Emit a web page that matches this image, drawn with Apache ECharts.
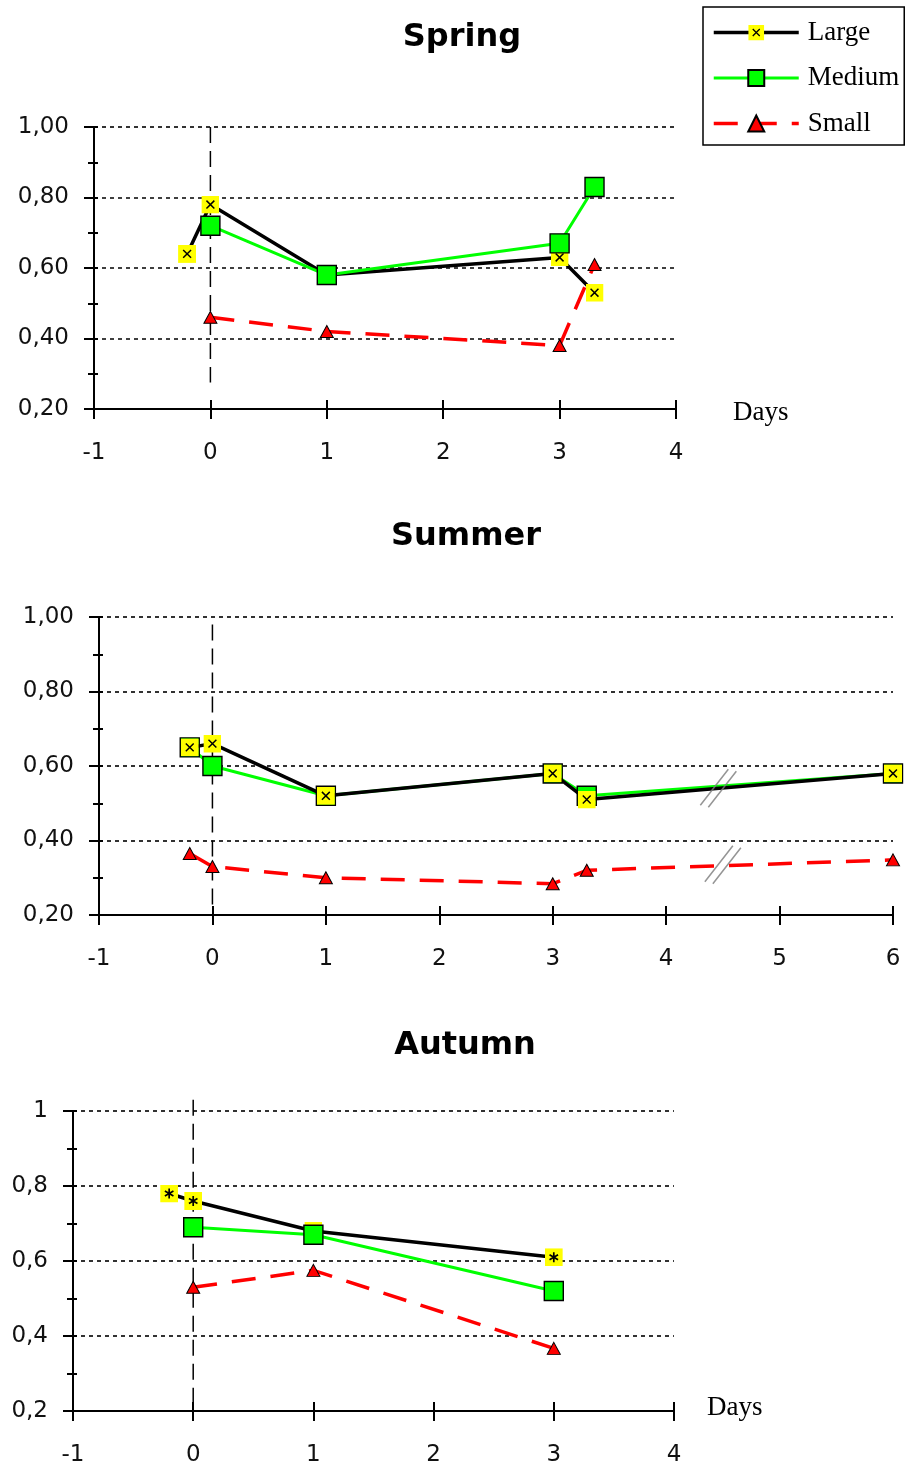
<!DOCTYPE html>
<html><head><meta charset="utf-8">
<script src="https://cdn.jsdelivr.net/npm/echarts@6/dist/echarts.min.js"></script>
<style>html,body{margin:0;padding:0;background:#fff}#c{width:907px;height:1472px}</style>
</head><body><div id="c"></div>
<script>
// ---------- data ----------
const seasonTitles = ['Spring', 'Summer', 'Autumn'];
const seriesNames = ['Large', 'Medium', 'Small'];
const axisTitle = 'Days';

const springLargeX = [-0.2, 0, 1, 3, 3.3];
const springLargeY = [0.64, 0.78, 0.58, 0.63, 0.53];
const springMediumX = [0, 1, 3, 3.3];
const springMediumY = [0.72, 0.58, 0.67, 0.83];
const springSmallX = [0, 1, 3, 3.3];
const springSmallY = [0.46, 0.42, 0.38, 0.61];
const springZeroLineY = [1.0, 0.275];

const summerLargeX = [-0.2, 0, 1, 3, 3.3, 6];
const summerLargeY = [0.65, 0.66, 0.52, 0.58, 0.51, 0.58];
const summerMediumX = [-0.2, 0, 1, 3, 3.3, 6];
const summerMediumY = [0.65, 0.60, 0.52, 0.58, 0.52, 0.58];
const summerSmallX = [-0.2, 0, 1, 3, 3.3, 6];
const summerSmallY = [0.365, 0.33, 0.30, 0.284, 0.32, 0.348];
const summerZeroLineY = [0.98, 0.215];
const summerBreakX = [4.46, 4.5];
const summerBreakY = [0.54, 0.335];

const autumnLargeX = [-0.2, 0, 1, 3];
const autumnLargeY = [0.78, 0.76, 0.68, 0.61];
const autumnMediumX = [0, 1, 3];
const autumnMediumY = [0.69, 0.67, 0.52];
const autumnSmallX = [0, 1, 3];
const autumnSmallY = [0.53, 0.575, 0.367];
const autumnZeroLineY = [1.03, 0.22];

const xMin = -1;
const xMaxSpring = 4, xMaxSummer = 6, xMaxAutumn = 4;
const yMin = 0.2, yMax = 1.0, yStep = 0.2;

// ---------- styles ----------
function svgUri(svg) { return 'image://data:image/svg+xml;utf8,' + encodeURIComponent(svg); }
const largeXSymbol = svgUri("<svg xmlns='http://www.w3.org/2000/svg' width='36' height='36' viewBox='0 0 16 16'><rect width='16' height='16' fill='#ffff00'/><path d='M4.5 4.5L11.5 11.5M11.5 4.5L4.5 11.5' stroke='#000' stroke-width='1.3' fill='none'/></svg>");
const largeStarSymbol = svgUri("<svg xmlns='http://www.w3.org/2000/svg' width='36' height='36' viewBox='0 0 16 16'><rect width='16' height='16' fill='#ffff00'/><path d='M8 3.5L8 12.5M4.2 5.8L11.8 10.2M11.8 5.8L4.2 10.2' stroke='#000' stroke-width='1.5' fill='none'/></svg>");

const GREEN = '#00ff00', RED = '#ff0000';

function zip(xs, ys) { return xs.map((x, i) => [x, ys[i]]); }

function largeSeries(gi, xs, ys, sym, z) {
  return { name: 'Large', type: 'line', xAxisIndex: gi * 2, yAxisIndex: gi * 2, data: zip(xs, ys),
    symbol: sym, symbolSize: 18, z: z, clip: false,
    lineStyle: { color: '#000', width: 3.5 }, itemStyle: { color: '#ffff00' } };
}
function mediumSeries(gi, xs, ys, z) {
  return { name: 'Medium', type: 'line', xAxisIndex: gi * 2, yAxisIndex: gi * 2, data: zip(xs, ys),
    symbol: 'rect', symbolSize: 19, z: z, clip: false,
    lineStyle: { color: GREEN, width: 3 }, itemStyle: { color: GREEN, borderColor: '#000', borderWidth: 1.4 } };
}
function smallSeries(gi, xs, ys, z) {
  return { name: 'Small', type: 'line', xAxisIndex: gi * 2, yAxisIndex: gi * 2, data: zip(xs, ys),
    symbol: 'triangle', symbolSize: [13, 12], z: z, clip: false,
    lineStyle: { color: RED, width: 3.5, type: [24, 15] }, itemStyle: { color: RED, borderColor: '#000', borderWidth: 1 } };
}
function zeroLine(gi, ys) {
  return { name: 'zero', type: 'line', xAxisIndex: gi * 2, yAxisIndex: gi * 2, data: ys.map(y => [0, y]),
    symbol: 'none', z: 1, clip: false, silent: true,
    lineStyle: { color: '#000', width: 1.5, type: [16, 8] } };
}

const AXIS_COLOR = '#000';
const labelFont = { fontFamily: 'DejaVu Sans', fontSize: 23, color: '#111' };

function mainX(gi, max) {
  return { type: 'value', gridIndex: gi, min: xMin, max: max, interval: 1, position: 'bottom',
    axisLine: { show: true, onZero: false, lineStyle: { color: AXIS_COLOR, width: 2 } },
    axisTick: { show: true, inside: false, length: 10, lineStyle: { color: AXIS_COLOR, width: 2 } },
    axisLabel: Object.assign({ margin: 33 }, labelFont),
    splitLine: { show: false } };
}
function twinX(gi, max) {
  return { type: 'value', gridIndex: gi, min: xMin, max: max, interval: 1, position: 'bottom',
    axisLine: { show: false, onZero: false },
    axisTick: { show: true, inside: true, length: 9, lineStyle: { color: AXIS_COLOR, width: 2 } },
    axisLabel: { show: false }, splitLine: { show: false } };
}
function mainY(gi, fmt) {
  return { type: 'value', gridIndex: gi, min: yMin, max: yMax, interval: yStep, position: 'left',
    axisLine: { show: true, onZero: false, lineStyle: { color: AXIS_COLOR, width: 2 } },
    axisTick: { show: true, inside: false, length: 10, lineStyle: { color: AXIS_COLOR, width: 2 } },
    minorTick: { show: true, splitNumber: 2, length: 6, lineStyle: { color: AXIS_COLOR, width: 2 } },
    axisLabel: Object.assign({ margin: 25, formatter: fmt }, labelFont),
    splitLine: { show: true, lineStyle: { color: '#000', width: 1.6, type: [4, 4] } } };
}
function twinY(gi) {
  return { type: 'value', gridIndex: gi, min: yMin, max: yMax, interval: yStep, position: 'left',
    axisLine: { show: false, onZero: false },
    axisTick: { show: true, inside: true, length: 4, lineStyle: { color: AXIS_COLOR, width: 2 } },
    minorTick: { show: true, splitNumber: 2, length: 4, lineStyle: { color: AXIS_COLOR, width: 2 } },
    axisLabel: { show: false }, splitLine: { show: false } };
}
const fmt2 = v => v.toFixed(2).replace('.', ',');
const fmt1 = v => String(+v.toFixed(1)).replace('.', ',');

const chart = echarts.init(document.getElementById('c'), null, { renderer: 'canvas' });
chart.setOption({
  backgroundColor: '#fff',
  animation: false,
  grid: [
    { left: 94, top: 127, width: 582, height: 282 },
    { left: 99, top: 617, width: 794, height: 298 },
    { left: 73, top: 1111, width: 601, height: 300 }
  ],
  xAxis: [mainX(0, xMaxSpring), twinX(0, xMaxSpring), mainX(1, xMaxSummer), twinX(1, xMaxSummer), mainX(2, xMaxAutumn), twinX(2, xMaxAutumn)],
  yAxis: [mainY(0, fmt2), twinY(0), mainY(1, fmt2), twinY(1), mainY(2, fmt1), twinY(2)],
  legend: {
    data: seriesNames, orient: 'vertical', left: 703, top: 7,
    padding: [12, 5, 8, 9], itemGap: 18.5, itemWidth: 85, itemHeight: 20,
    borderColor: '#000', borderWidth: 1.5, borderRadius: 0, selectedMode: false,
    lineStyle: { width: 'inherit' },
    textStyle: { fontFamily: 'Liberation Serif', fontSize: 27, lineHeight: 27, color: '#000', padding: [0, 0, 0, 4] }
  },
  graphic: [
    { type: 'text', x: 462, y: 38, style: { text: seasonTitles[0], font: 'bold 32px "DejaVu Sans"', fill: '#000', align: 'center', verticalAlign: 'middle' } },
    { type: 'text', x: 466, y: 537, style: { text: seasonTitles[1], font: 'bold 32px "DejaVu Sans"', fill: '#000', align: 'center', verticalAlign: 'middle' } },
    { type: 'text', x: 465, y: 1046, style: { text: seasonTitles[2], font: 'bold 32px "DejaVu Sans"', fill: '#000', align: 'center', verticalAlign: 'middle' } },
    { type: 'text', x: 733, y: 413, style: { text: axisTitle, font: '27px "Liberation Serif"', fill: '#000', align: 'left', verticalAlign: 'middle' } },
    { type: 'text', x: 707, y: 1408, style: { text: axisTitle, font: '27px "Liberation Serif"', fill: '#000', align: 'left', verticalAlign: 'middle' } }
  ],
  series: [
    zeroLine(0, springZeroLineY),
    largeSeries(0, springLargeX, springLargeY, largeXSymbol, 3),
    mediumSeries(0, springMediumX, springMediumY, 4),
    smallSeries(0, springSmallX, springSmallY, 2),

    zeroLine(1, summerZeroLineY),
    mediumSeries(1, summerMediumX, summerMediumY, 3),
    largeSeries(1, summerLargeX, summerLargeY, largeXSymbol, 4),
    smallSeries(1, summerSmallX, summerSmallY, 2),
    { name: 'break', type: 'scatter', xAxisIndex: 2, yAxisIndex: 2, data: zip(summerBreakX, summerBreakY),
      symbol: 'path://M0,36 L28,0 M8,38 L36,2', symbolSize: [36, 38], z: 6, silent: true,
      itemStyle: { color: 'rgba(0,0,0,0)', borderColor: '#7a7a7a', borderWidth: 1.6 } },

    zeroLine(2, autumnZeroLineY),
    largeSeries(2, autumnLargeX, autumnLargeY, largeStarSymbol, 3),
    mediumSeries(2, autumnMediumX, autumnMediumY, 4),
    smallSeries(2, autumnSmallX, autumnSmallY, 2)
  ]
});
</script>
</body></html>
